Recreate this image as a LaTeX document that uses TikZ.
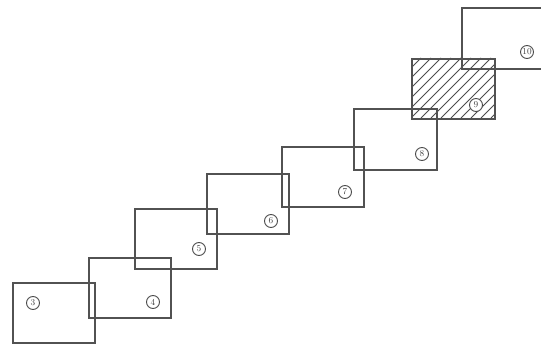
\documentclass[tikz,border=0pt]{standalone}
\begin{document}
\begin{tikzpicture}[x=1pt,y=-1pt,
  box/.style={draw=black!68, line width=1.7pt, minimum width=82pt, minimum height=60pt, anchor=north west, inner sep=0pt},
  num/.style={draw=black!70, circle, line width=0.9pt, inner sep=0pt, minimum size=13pt, font=\fontsize{9}{9}\selectfont, text=black!75},
  hatch/.style={draw=black!70, line width=0.8pt}]
\useasboundingbox (0,0) rectangle (541,350);
\fill[white] (0,0) rectangle (541,350);
\clip (0,0) rectangle (541,350);
% hatching of box 9
\begin{scope}
\clip (411,58) rectangle (494,118);
\foreach \k in {0,10,...,180} {
  \draw[hatch] (411+\k-60,118) -- (411+\k,58);
}
\end{scope}
\node[box] (b3) at (12,282) {};
\node[box] (b4) at (88,257) {};
\node[box] (b5) at (134,208) {};
\node[box] (b6) at (206,173) {};
\node[box] (b7) at (281,146) {};
\node[box, minimum width=83pt, minimum height=61pt] (b8) at (353,108) {};
\node[box, minimum width=83pt] (b9) at (411,58) {};
\node[box, minimum width=100pt, minimum height=61pt] (b10) at (461,7) {};
\node[num] (n3) at (33,303) {3};
\node[num] (n4) at (153,302) {4};
\node[num] (n5) at (199,249) {5};
\node[num] (n6) at (271,221) {6};
\node[num] (n7) at (345,192) {7};
\node[num] (n8) at (422,154) {8};
\node[num, fill=white] (n9) at (476,105) {9};
\node[num] (n10) at (527,52) {10};
\end{tikzpicture}
\end{document}
